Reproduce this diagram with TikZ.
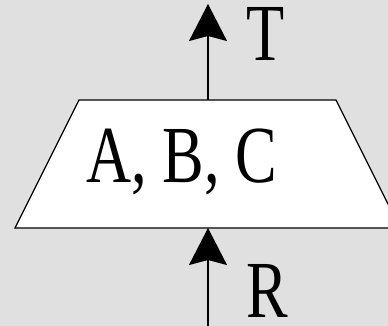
\documentclass[tikz,border=0pt]{standalone}
\usepackage{fontspec}
\setmainfont{Liberation Serif}
\usetikzlibrary{arrows.meta}
\begin{document}
\begin{tikzpicture}[x=1pt,y=-1pt,
  conn/.style={line width=1.2pt,-{Stealth[length=37pt,width=38pt,inset=5pt]}},
  lbl/.style={inner sep=0pt,font=\fontsize{81}{81}\selectfont,xscale=0.77,transform shape}]
\useasboundingbox (0,0) rectangle (388,326);
\fill[gray!25!white,fill={rgb,255:red,224;green,224;blue,224}] (0,0) rectangle (388,326);
\begin{scope}
\clip (0,0) rectangle (388,326);
\draw[line width=1.3pt,fill=white] (15,228) coordinate (bl) -- (79,100) coordinate (tl) -- (336,100) coordinate (tr) -- (400,228) coordinate (br) -- cycle;
\end{scope}
\coordinate (top) at (208,100);
\coordinate (bot) at (208,228);
\coordinate (tipT) at (208,4);
\coordinate (startR) at (208,326);
\draw[conn] (top) -- (tipT);
\draw[conn] (startR) -- (bot);
\node[lbl] (abc) at (182,162) {A, B, C};
\node[lbl] (T) at (265.5,34) {T};
\node[lbl] (R) at (267,290.5) {R};
\end{tikzpicture}
\end{document}
